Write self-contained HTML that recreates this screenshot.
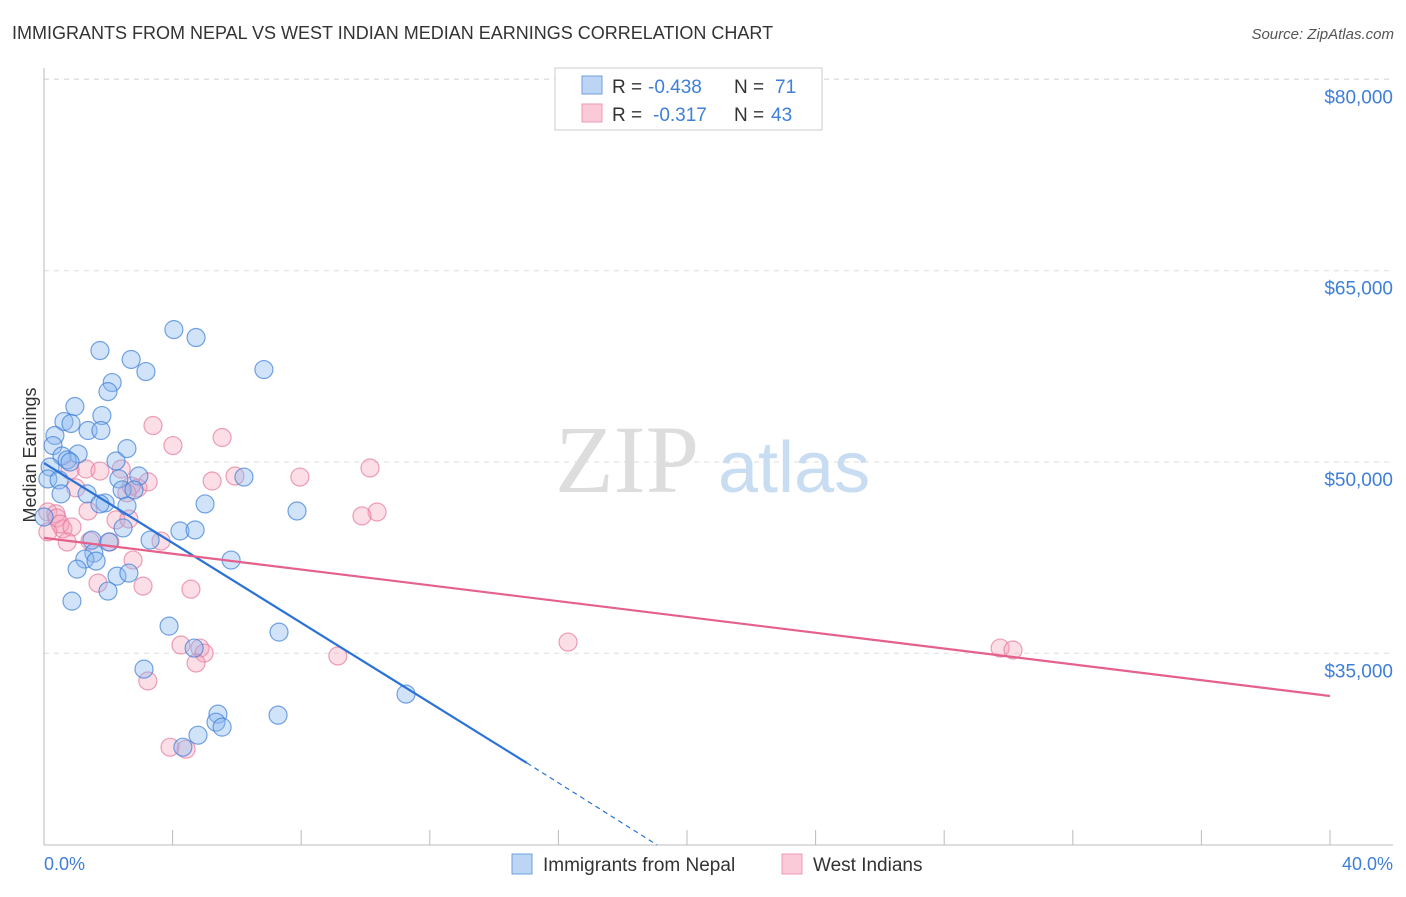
<!DOCTYPE html>
<html><head><meta charset="utf-8"><style>
body{margin:0;background:#fff;font-family:"Liberation Sans",sans-serif;}
</style></head><body>
<svg width="1406" height="892" xmlns="http://www.w3.org/2000/svg">
<text x="12" y="39" font-size="18" fill="#333">IMMIGRANTS FROM NEPAL VS WEST INDIAN MEDIAN EARNINGS CORRELATION CHART</text>
<text x="1394" y="39" font-size="15" fill="#555" font-style="italic" text-anchor="end">Source: ZipAtlas.com</text>
<g id="grid"></g>
<line x1="44" y1="68" x2="44" y2="845" stroke="#bbb"/>
<line x1="44" y1="845" x2="1393" y2="845" stroke="#bbb"/>
<text x="36" y="455" font-size="18" fill="#333" text-anchor="middle" transform="rotate(-90 36 455)">Median Earnings</text>
<text x="555" y="492" font-size="96" fill="#ddd" font-family="Liberation Serif,serif">ZIP</text>
<text x="718" y="492" font-size="72" fill="#c8dcf2">atlas</text>
<g id="pts"></g>
<g id="lines"></g>
<text x="44" y="870" font-size="18" fill="#3d7fd9">0.0%</text>
<text x="1393" y="870" font-size="18" fill="#3d7fd9" text-anchor="end">40.0%</text>
<g>
<rect x="555" y="68" width="267" height="62" fill="#fff" stroke="#ccc"/>
<rect x="582" y="76" width="20" height="18" fill="#bcd5f5" stroke="#6fa0e0"/>
<rect x="582" y="104" width="20" height="18" fill="#fbcad8" stroke="#ee9ab5"/>
<text x="612" y="93" font-size="19" fill="#333">R =</text>
<text x="648" y="93" font-size="19" fill="#3d7fd9">-0.438</text>
<text x="734" y="93" font-size="19" fill="#333">N =</text>
<text x="775" y="93" font-size="19" fill="#3d7fd9">71</text>
<text x="612" y="121" font-size="19" fill="#333">R =</text>
<text x="653" y="121" font-size="19" fill="#3d7fd9">-0.317</text>
<text x="734" y="121" font-size="19" fill="#333">N =</text>
<text x="771" y="121" font-size="19" fill="#3d7fd9">43</text>
</g>
<g>
<rect x="512" y="854" width="20" height="20" fill="#bcd5f5" stroke="#6fa0e0"/>
<text x="543" y="871" font-size="19" fill="#333">Immigrants from Nepal</text>
<rect x="782" y="854" width="20" height="20" fill="#fbcad8" stroke="#ee9ab5"/>
<text x="813" y="871" font-size="19" fill="#333">West Indians</text>
</g>
</svg>
<script>
const yTicks=[80000,65000,50000,35000];
const yTickLabels=["$80,000","$65,000","$50,000","$35,000"];
const blueX=[4.04,4.73,1.74,2.71,3.17,6.84,2.12,1.99,0.96,1.80,0.62,0.84,1.37,1.77,0.34,0.28,2.58,1.06,0.56,0.72,0.81,2.24,0.19,2.95,6.22,0.12,0.47,2.33,0.53,1.34,2.43,2.80,1.90,2.58,1.74,5.01,7.87,2.46,4.23,4.70,1.49,3.30,2.02,1.55,1.27,1.62,5.82,1.03,2.27,2.64,1.99,0.87,3.89,7.31,4.67,3.11,11.26,5.41,5.35,5.54,7.28,4.79,4.32,0.0];
const blueY=[60380,59760,58740,58040,57090,57250,56230,55520,54350,53640,53170,53020,52470,52470,52080,51290,51050,50630,50470,50160,50000,50080,49610,48900,48820,48670,48590,48670,47500,47500,47810,47810,46790,46550,46710,46710,46160,44830,44590,44670,43880,43880,43730,42860,42390,42230,42310,41600,41050,41290,39880,39090,37130,36660,35410,33760,31800,30230,29600,29210,30150,28580,27640,45690];
const pinkX=[4.01,3.39,5.54,1.31,0.81,1.74,2.40,5.94,7.96,5.23,10.14,0.99,2.92,2.71,10.36,9.89,3.24,2.58,1.37,0.12,0.37,0.40,0.59,2.24,2.64,0.50,0.12,0.87,2.05,3.64,1.43,0.72,2.77,4.57,3.08,1.68,4.26,4.85,4.98,4.73,9.14,3.23,16.30,29.74,30.14,3.92,4.42];
const pinkY=[51290,52860,51920,49450,49370,49290,49450,48900,48820,48510,49530,47970,47970,48120,46080,45770,48440,47580,46160,46080,45930,45610,44750,45460,45530,45140,44520,44910,43730,43800,43800,43730,42310,40030,40270,40500,35650,35410,35020,34240,34790,32830,35880,35410,35260,27640,27480];
const blueLine=[[0,49920],[15.02,26400]],blueDash=[[15.02,26400],[19.07,19970]];
const pinkLine=[[0,44050],[40,31650]];
const X=p=>44+p*32.15, Y=v=>462-(v-50000)*191.3/15000;
const NS="http://www.w3.org/2000/svg";
const grid=document.getElementById('grid'),pts=document.getElementById('pts'),lines=document.getElementById('lines');
function mk(t,a,p){const e=document.createElementNS(NS,t);for(const k in a)e.setAttribute(k,a[k]);p.appendChild(e);return e;}
mk('line',{x1:44,x2:1393,y1:79,y2:79,stroke:'#ddd','stroke-dasharray':'5,5'},grid);
yTicks.forEach((v,i)=>{
 const g=mk('line',{x1:44,x2:1393,y1:Y(v),y2:Y(v),stroke:'#ddd','stroke-dasharray':'5,5'},grid);
 
 
 const t=mk('text',{x:1393,y:Y(v)+24,'font-size':19,fill:'#3d7fd9','text-anchor':'end'},grid);
 t.textContent=yTickLabels[i];
 
 
});
for(let i=0;i<=10;i++){const l=mk('line',{x1:X(i*4),x2:X(i*4),y1:830,y2:845,stroke:'#bbb'},grid);
 
 }
pinkX.forEach((x,i)=>{const c=mk('circle',{cx:X(x),cy:Y(pinkY[i]),r:9,fill:'rgba(245,160,185,0.35)',stroke:'rgba(230,120,155,0.7)','stroke-width':1.2},pts);
 
 });
blueX.forEach((x,i)=>{const c=mk('circle',{cx:X(x),cy:Y(blueY[i]),r:9,fill:'rgba(140,185,240,0.4)',stroke:'rgba(60,125,215,0.7)','stroke-width':1.2},pts);
 
 });
let l=mk('line',{x1:X(blueLine[0][0]),y1:Y(blueLine[0][1]),x2:X(blueLine[1][0]),y2:Y(blueLine[1][1]),stroke:'#2a72d6','stroke-width':2.2},lines);


l=mk('line',{x1:X(blueDash[0][0]),y1:Y(blueDash[0][1]),x2:X(blueDash[1][0]),y2:Y(blueDash[1][1]),stroke:'#2a72d6','stroke-width':1.2,'stroke-dasharray':'5,4'},lines);


l=mk('line',{x1:X(pinkLine[0][0]),y1:Y(pinkLine[0][1]),x2:X(pinkLine[1][0]),y2:Y(pinkLine[1][1]),stroke:'#e5608a','stroke-width':2.2},lines);


</script>
</body></html>
